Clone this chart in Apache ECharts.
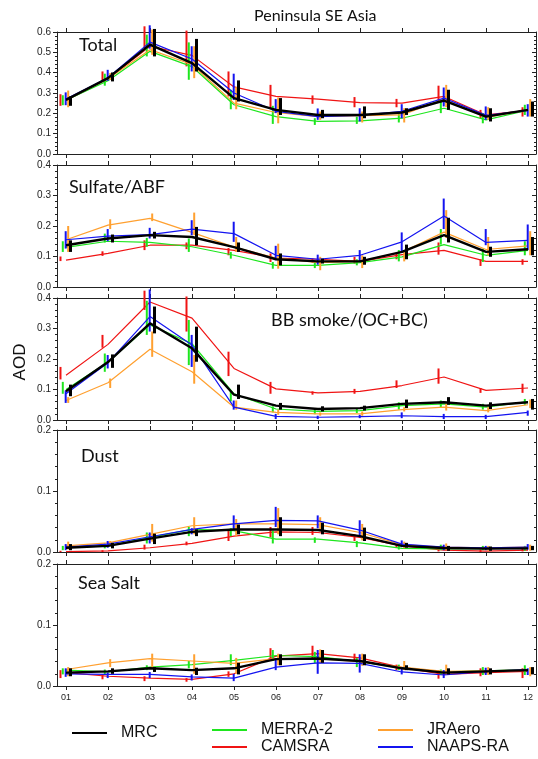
<!DOCTYPE html>
<html><head><meta charset="utf-8">
<script src="https://cdn.jsdelivr.net/npm/echarts@6/dist/echarts.min.js"></script>
<style>html,body{margin:0;padding:0;background:#fff}#c{width:538px;height:759px}</style>
</head><body><div id="c"></div>
<script>
const months = [1,2,3,4,5,6,7,8,9,10,11,12];
const monthLabels = ['01','02','03','04','05','06','07','08','09','10','11','12'];
const seriesNames = ['MRC','MERRA-2','CAMSRA','JRAero','NAAPS-RA'];
const panelTitles = ['Total','Sulfate/ABF','BB smoke/(OC+BC)','Dust','Sea Salt'];
const panelMax = [0.6, 0.4, 0.4, 0.2, 0.2];

// Total
const totalMRC   = [0.266,0.373,0.538,0.447,0.275,0.217,0.192,0.192,0.204,0.263,0.184,0.217];
const totalMERRA = [0.265,0.360,0.505,0.430,0.242,0.184,0.160,0.163,0.176,0.225,0.168,0.215];
const totalCAMS  = [0.265,0.370,0.530,0.485,0.330,0.283,0.270,0.253,0.250,0.283,0.192,0.215];
const totalJRA   = [0.265,0.370,0.513,0.440,0.250,0.204,0.184,0.188,0.192,0.270,0.180,0.217];
const totalNAAPS = [0.270,0.375,0.550,0.467,0.300,0.210,0.184,0.190,0.210,0.275,0.190,0.215];
const totalMRCBar   = [[0.237,0.283],[0.357,0.401],[0.480,0.615],[0.406,0.566],[0.258,0.362],[0.192,0.275],[0.176,0.217],[0.176,0.234],[0.192,0.225],[0.217,0.316],[0.160,0.225],[0.184,0.258]];
const totalMERRABar = [[0.240,0.289],[0.336,0.395],[0.480,0.587],[0.365,0.549],[0.220,0.316],[0.148,0.237],[0.143,0.176],[0.148,0.184],[0.155,0.201],[0.201,0.266],[0.151,0.201],[0.192,0.242]];
const totalCAMSBar  = [[0.237,0.294],[0.357,0.406],[0.521,0.628],[0.431,0.607],[0.283,0.406],[0.225,0.340],[0.247,0.288],[0.230,0.280],[0.230,0.271],[0.258,0.336],[0.176,0.217],[0.184,0.230]];
const totalJRABar   = [[0.230,0.312],[0.365,0.398],[0.488,0.612],[0.373,0.530],[0.220,0.329],[0.151,0.278],[0.168,0.209],[0.155,0.209],[0.155,0.225],[0.230,0.340],[0.168,0.230],[0.184,0.270]];
const totalNAAPSBar = [[0.240,0.303],[0.360,0.414],[0.518,0.633],[0.406,0.530],[0.266,0.395],[0.201,0.270],[0.168,0.224],[0.160,0.225],[0.176,0.245],[0.234,0.327],[0.168,0.234],[0.184,0.245]];

// Sulfate/ABF
const sulfMRC   = [0.137,0.159,0.170,0.164,0.131,0.091,0.084,0.084,0.115,0.170,0.115,0.124];
const sulfMERRA = [0.130,0.150,0.146,0.132,0.104,0.071,0.071,0.080,0.099,0.139,0.104,0.120];
const sulfCAMS  = [0.088,0.110,0.137,0.137,0.120,0.095,0.091,0.084,0.106,0.120,0.084,0.084];
const sulfJRA   = [0.155,0.203,0.225,0.179,0.131,0.095,0.080,0.084,0.115,0.180,0.123,0.135];
const sulfNAAPS = [0.155,0.167,0.172,0.190,0.175,0.104,0.091,0.104,0.148,0.233,0.146,0.153];
const sulfMRCBar   = [[0.115,0.153],[0.146,0.172],[0.159,0.181],[0.137,0.197],[0.115,0.146],[0.071,0.110],[0.077,0.093],[0.073,0.099],[0.091,0.139],[0.146,0.227],[0.099,0.132],[0.104,0.164]];
const sulfMERRABar = [[0.115,0.150],[0.146,0.175],[0.132,0.161],[0.115,0.159],[0.093,0.115],[0.060,0.082],[0.062,0.080],[0.071,0.091],[0.084,0.121],[0.139,0.190],[0.082,0.126],[0.104,0.150]];
const sulfCAMSBar  = [[0.085,0.100],[0.102,0.117],[0.121,0.153],[0.124,0.146],[0.104,0.128],[0.082,0.110],[0.080,0.093],[0.077,0.099],[0.091,0.110],[0.106,0.146],[0.069,0.091],[0.073,0.091]];
const sulfJRABar   = [[0.115,0.200],[0.190,0.222],[0.216,0.241],[0.170,0.244],[0.115,0.164],[0.060,0.142],[0.055,0.099],[0.062,0.104],[0.084,0.121],[0.161,0.252],[0.104,0.164],[0.104,0.183]];
const sulfNAAPSBar = [[0.126,0.183],[0.150,0.190],[0.159,0.194],[0.170,0.219],[0.148,0.214],[0.088,0.135],[0.073,0.106],[0.082,0.121],[0.113,0.179],[0.190,0.290],[0.137,0.190],[0.121,0.205]];

// BB smoke
const bbMRC   = [0.094,0.190,0.317,0.235,0.083,0.047,0.036,0.039,0.053,0.058,0.047,0.058];
const bbMERRA = [0.100,0.190,0.312,0.250,0.086,0.036,0.028,0.031,0.047,0.053,0.042,0.060];
const bbCAMS  = [0.147,0.248,0.387,0.334,0.169,0.102,0.089,0.094,0.113,0.141,0.097,0.105];
const bbJRA   = [0.064,0.122,0.232,0.158,0.042,0.025,0.020,0.020,0.034,0.042,0.031,0.050];
const bbNAAPS = [0.086,0.188,0.339,0.246,0.042,0.012,0.009,0.011,0.014,0.011,0.011,0.025];
const bbMRCBar   = [[0.078,0.116],[0.171,0.215],[0.284,0.372],[0.191,0.306],[0.069,0.116],[0.034,0.056],[0.028,0.045],[0.031,0.047],[0.039,0.067],[0.050,0.075],[0.036,0.058],[0.034,0.069]];
const bbMERRABar = [[0.086,0.125],[0.158,0.218],[0.279,0.391],[0.180,0.328],[0.061,0.094],[0.025,0.045],[0.019,0.034],[0.023,0.039],[0.034,0.058],[0.042,0.064],[0.034,0.053],[0.050,0.069]];
const bbCAMSBar  = [[0.133,0.174],[0.237,0.279],[0.361,0.424],[0.290,0.405],[0.144,0.224],[0.086,0.125],[0.083,0.094],[0.086,0.102],[0.105,0.130],[0.119,0.169],[0.089,0.105],[0.089,0.119]];
const bbJRABar   = [[0.056,0.075],[0.105,0.136],[0.207,0.290],[0.119,0.213],[0.034,0.064],[0.017,0.034],[0.014,0.025],[0.014,0.028],[0.028,0.042],[0.031,0.053],[0.025,0.042],[0.039,0.067]];
const bbNAAPSBar = [[0.056,0.097],[0.169,0.213],[0.290,0.428],[0.174,0.279],[0.034,0.064],[0.003,0.020],[0.003,0.014],[0.006,0.017],[0.006,0.025],[0.003,0.020],[0.003,0.017],[0.014,0.031]];

// Dust
const dustMRC   = [0.007,0.010,0.022,0.033,0.037,0.037,0.036,0.026,0.010,0.0065,0.0055,0.006];
const dustMERRA = [0.007,0.010,0.024,0.037,0.035,0.021,0.021,0.015,0.006,0.005,0.0055,0.007];
const dustCAMS  = [0.0005,0.002,0.007,0.014,0.026,0.033,0.032,0.024,0.010,0.003,0.0015,0.003];
const dustJRA   = [0.010,0.015,0.029,0.043,0.046,0.046,0.045,0.032,0.012,0.008,0.007,0.008];
const dustNAAPS = [0.008,0.013,0.025,0.037,0.046,0.052,0.051,0.036,0.013,0.008,0.007,0.008];
const dustMRCBar   = [[0.003,0.013],[0.006,0.015],[0.013,0.030],[0.026,0.037],[0.029,0.045],[0.026,0.057],[0.029,0.048],[0.018,0.040],[0.007,0.015],[0.002,0.010],[0.002,0.009],[0.003,0.010]];
const dustMERRABar = [[0.003,0.010],[0.006,0.014],[0.014,0.032],[0.026,0.041],[0.026,0.039],[0.014,0.035],[0.015,0.024],[0.008,0.018],[0.004,0.010],[0.003,0.012],[0.003,0.010],[0.002,0.010]];
const dustCAMSBar  = [[0.000,0.002],[0.000,0.003],[0.004,0.012],[0.011,0.017],[0.018,0.035],[0.024,0.041],[0.028,0.041],[0.018,0.029],[0.007,0.013],[0.001,0.007],[0.000,0.004],[0.001,0.006]];
const dustJRABar   = [[0.004,0.017],[0.010,0.018],[0.017,0.046],[0.029,0.057],[0.026,0.054],[0.029,0.072],[0.034,0.057],[0.019,0.046],[0.006,0.017],[0.003,0.014],[0.002,0.010],[0.002,0.012]];
const dustNAAPSBar = [[0.003,0.013],[0.007,0.018],[0.014,0.032],[0.029,0.039],[0.037,0.060],[0.041,0.074],[0.039,0.060],[0.026,0.052],[0.008,0.019],[0.003,0.012],[0.003,0.010],[0.004,0.013]];

// Sea Salt
const seaMRC   = [0.022,0.024,0.029,0.026,0.029,0.044,0.045,0.041,0.029,0.022,0.024,0.026];
const seaMERRA = [0.026,0.023,0.031,0.035,0.042,0.050,0.048,0.040,0.029,0.023,0.025,0.027];
const seaCAMS  = [0.022,0.016,0.013,0.011,0.020,0.049,0.053,0.046,0.030,0.019,0.022,0.024];
const seaJRA   = [0.027,0.038,0.045,0.041,0.037,0.045,0.045,0.040,0.031,0.024,0.025,0.026];
const seaNAAPS = [0.020,0.019,0.019,0.015,0.013,0.031,0.038,0.037,0.023,0.018,0.024,0.027];
const seaMRCBar   = [[0.016,0.029],[0.020,0.029],[0.023,0.031],[0.018,0.030],[0.019,0.038],[0.034,0.052],[0.038,0.059],[0.034,0.052],[0.026,0.034],[0.019,0.029],[0.019,0.029],[0.019,0.031]];
const seaMERRABar = [[0.019,0.029],[0.018,0.027],[0.026,0.034],[0.029,0.041],[0.034,0.052],[0.041,0.059],[0.037,0.056],[0.031,0.046],[0.026,0.035],[0.018,0.027],[0.018,0.031],[0.018,0.034]];
const seaCAMSBar  = [[0.013,0.026],[0.011,0.019],[0.008,0.016],[0.007,0.013],[0.015,0.024],[0.042,0.062],[0.045,0.066],[0.040,0.053],[0.026,0.035],[0.012,0.026],[0.016,0.029],[0.013,0.029]];
const seaJRABar   = [[0.016,0.031],[0.031,0.044],[0.031,0.053],[0.020,0.052],[0.020,0.046],[0.034,0.053],[0.037,0.060],[0.033,0.053],[0.026,0.041],[0.019,0.035],[0.018,0.031],[0.016,0.031]];
const seaNAAPSBar = [[0.015,0.029],[0.013,0.022],[0.013,0.023],[0.009,0.019],[0.008,0.020],[0.026,0.045],[0.020,0.059],[0.022,0.052],[0.019,0.031],[0.013,0.026],[0.018,0.030],[0.018,0.029]];

// order: MRC, MERRA-2, CAMSRA, JRAero, NAAPS-RA
const panelValues = [
  [totalMRC,totalMERRA,totalCAMS,totalJRA,totalNAAPS],
  [sulfMRC,sulfMERRA,sulfCAMS,sulfJRA,sulfNAAPS],
  [bbMRC,bbMERRA,bbCAMS,bbJRA,bbNAAPS],
  [dustMRC,dustMERRA,dustCAMS,dustJRA,dustNAAPS],
  [seaMRC,seaMERRA,seaCAMS,seaJRA,seaNAAPS]
];
const panelBars = [
  [totalMRCBar,totalMERRABar,totalCAMSBar,totalJRABar,totalNAAPSBar],
  [sulfMRCBar,sulfMERRABar,sulfCAMSBar,sulfJRABar,sulfNAAPSBar],
  [bbMRCBar,bbMERRABar,bbCAMSBar,bbJRABar,bbNAAPSBar],
  [dustMRCBar,dustMERRABar,dustCAMSBar,dustJRABar,dustNAAPSBar],
  [seaMRCBar,seaMERRABar,seaCAMSBar,seaJRABar,seaNAAPSBar]
];

// styles
const colors = ['#000000','#1ee61e','#f01414','#ffa030','#1414f0'];
const lineW = [2.4,1.2,1.2,1.2,1.2];
const barW = [3,2,2,2,2];
const barOff = [4.5,-3.2,-5.5,2.2,-0.3];
const zOrder = [10,4,3,5,6];
const drawOrder = [2,1,4,3,0];

const gridTops = [32,165,298,430,564];
const gridH = 122;
const xMin = 0.786, xMax = 12.19;
const axisCol = '#222';
const tickFont = 'Liberation Sans';

const grids = [], xAxes = [], yAxes = [], series = [];
gridTops.forEach((t,i)=>{
  grids.push({left:57, width:479, top:t, height:gridH});
  const base = {gridIndex:i, type:'value', min:xMin, max:xMax,
    axisLine:{show:true, onZero:false, lineStyle:{color:axisCol,width:1}},
    splitLine:{show:false}};
  xAxes.push(Object.assign({}, base, {position:'bottom',
    axisTick:{show:true, customValues:months, length:4, lineStyle:{color:axisCol}},
    axisLabel:{show:i===4, customValues:months, formatter:v=>monthLabels[Math.round(v)-1],
      fontSize:9, color:'#222', fontFamily:tickFont, margin:7}}));
  xAxes.push(Object.assign({}, base, {position:'top',
    axisTick:{show:true, customValues:months, length:4, lineStyle:{color:axisCol}},
    axisLabel:{show:false}}));
  const ybase = {gridIndex:i, type:'value', min:0, max:panelMax[i], interval:0.1,
    axisLine:{show:true, onZero:false, lineStyle:{color:axisCol,width:1}},
    splitLine:{show:false}};
  yAxes.push(Object.assign({}, ybase, {position:'left',
    axisTick:{show:true, length:4, lineStyle:{color:axisCol}},
    minorTick:{show:true, splitNumber:5, length:2, lineStyle:{color:axisCol}},
    axisLabel:{show:true, formatter:v=>v.toFixed(1), fontSize:10, color:'#222', fontFamily:tickFont, margin:6}}));
  yAxes.push(Object.assign({}, ybase, {position:'right',
    axisTick:{show:true, inside:true, length:4, lineStyle:{color:axisCol}},
    minorTick:{show:true, splitNumber:5, length:2, lineStyle:{color:axisCol}},
    axisLabel:{show:false}}));

  drawOrder.forEach(s=>{
    series.push({
      type:'line', name:seriesNames[s], xAxisIndex:2*i, yAxisIndex:2*i,
      data: months.map((m,k)=>[m, panelValues[i][s][k]]),
      showSymbol:false, symbol:'none', silent:true, animation:false,
      color: colors[s], lineStyle:{color:colors[s], width:lineW[s]}, z:zOrder[s]
    });
    series.push({
      type:'custom', xAxisIndex:2*i, yAxisIndex:2*i, silent:true, animation:false, z:zOrder[s],
      data: months.map((m,k)=>[m, panelBars[i][s][k][0], panelBars[i][s][k][1]]),
      renderItem:(params, api)=>{
        const p1 = api.coord([api.value(0), api.value(1)]);
        const p2 = api.coord([api.value(0), api.value(2)]);
        const x = p1[0] + barOff[s];
        return {type:'line', shape:{x1:x, y1:p1[1], x2:x, y2:p2[1]},
          style:{stroke:colors[s], lineWidth:barW[s]}};
      }
    });
  });
});

const labelPos = [[79,36],[69,178],[271,311],[81,447],[78,574]];
const graphic = panelTitles.map((txt,i)=>({
  type:'text', left:labelPos[i][0], top:labelPos[i][1], silent:true,
  style:{text:txt, font:'18px Lato', fill:'#111'}
}));
graphic.push({type:'text', x:20, y:362, rotation:Math.PI/2, silent:true,
  style:{text:'AOD', font:'17px "Liberation Sans"', fill:'#111', align:'center', verticalAlign:'middle'}});

const legText = {fontSize:16, fontFamily:'Liberation Sans', color:'#111', lineHeight:16, padding:[0,0,0,9]};
const legBase = {icon:'rect', itemWidth:35, itemHeight:2, orient:'vertical', itemGap:1, padding:0,
  textStyle:legText, selectedMode:false,
  itemStyle:{borderWidth:0}, lineStyle:{width:0}};

const chart = echarts.init(document.getElementById('c'), null, {renderer:'canvas'});
chart.setOption({
  backgroundColor:'#fff',
  animation:false,
  title:{text:'Peninsula SE Asia', left:254, top:8, padding:0,
    textStyle:{fontFamily:'Lato', fontSize:16, fontWeight:'normal', color:'#111'}},
  grid:grids, xAxis:xAxes, yAxis:yAxes, series:series, graphic:graphic,
  legend:[
    Object.assign({}, legBase, {data:['MRC'], left:72, top:725}),
    Object.assign({}, legBase, {data:['MERRA-2','CAMSRA'], left:212, top:722}),
    Object.assign({}, legBase, {data:['JRAero','NAAPS-RA'], left:378, top:722})
  ]
});
</script></body></html>
